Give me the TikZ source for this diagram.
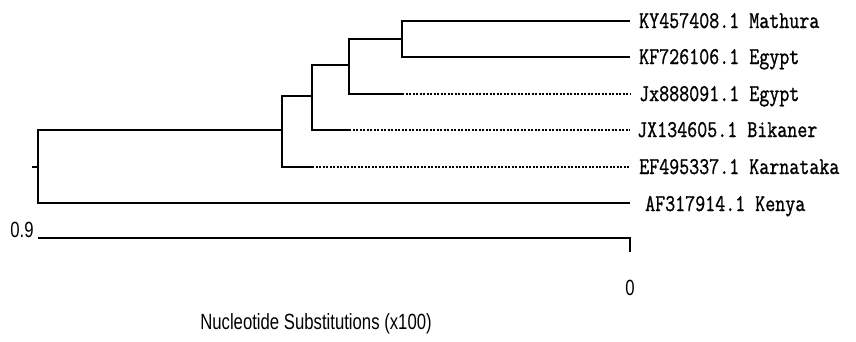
\documentclass[tikz,border=0pt]{standalone}
\usepackage{fontspec}
\newfontfamily\axisfont{Liberation Sans}
\newfontfamily\taxonfont{Latin Modern Mono}[FakeBold=1.2]
\begin{document}
\begin{tikzpicture}[x=1pt,y=-1pt,
  branch/.style={line width=2.3pt,line join=miter},
  tail/.style={line width=2.2pt,dash pattern=on 2.4pt off 1.1pt},
  taxon/.style={anchor=base west,inner sep=0pt,xscale=0.81,transform shape,
    font=\fontsize{24}{24}\selectfont\taxonfont},
  axislabel/.style={inner sep=0pt,xscale=0.76,transform shape,
    font=\fontsize{22}{22}\selectfont\axisfont}]
\useasboundingbox (0,0) rectangle (856,341);

% internal nodes of the tree
\coordinate (stub) at (32,167);
\coordinate (R) at (38,167);
\coordinate (A) at (282,130);
\coordinate (B) at (312,96);
\coordinate (C) at (349,65);
\coordinate (D) at (402,39);

% tips
\coordinate (t1) at (630,21);
\coordinate (t2) at (630,57);
\coordinate (t3) at (630,94);
\coordinate (t4) at (630,130);
\coordinate (t5) at (630,167);
\coordinate (t6) at (630,203);
% where solid branches turn into dashed ones
\coordinate (s3) at (402,94);
\coordinate (s4) at (349,130);
\coordinate (s5) at (312,167);

% taxon labels
\node[taxon] (L1) at (639,28) {KY457408.1 Mathura};
\node[taxon] (L2) at (639,64) {KF726106.1 Egypt};
\node[taxon] (L3) at (639,101) {Jx888091.1 Egypt};
\node[taxon] (L4) at (637,137) {JX134605.1 Bikaner};
\node[taxon] (L5) at (639,174) {EF495337.1 Karnataka};
\node[taxon] (L6) at (645,211) {AF317914.1 Kenya};

% solid branches
\draw[branch] (stub) -- (R);
\draw[branch] (R) |- (A);
\draw[branch] (R) |- (t6);
\draw[branch] (A) |- (B);
\draw[branch] (A) |- (s5);
\draw[branch] (B) |- (C);
\draw[branch] (B) |- (s4);
\draw[branch] (C) |- (D);
\draw[branch] (C) |- (s3);
\draw[branch] (D) |- (t1);
\draw[branch] (D) |- (t2);

% dashed extensions to the tips
\draw[tail] (s3) -- (t3);
\draw[tail] (s4) -- (t4);
\draw[tail] (s5) -- (t5);

% scale bar
\coordinate (b0) at (38,238);
\coordinate (b1) at (630,238);
\coordinate (b2) at (630,252);
\draw[branch] (b0) -- (b1) -- (b2);
\node[axislabel] (v09) at (22,230) {0.9};
\node[axislabel] (v0) at (630,288) {0};
\node[axislabel] (title) at (316,324) {Nucleotide Substitutions (x100)};
\end{tikzpicture}
\end{document}
